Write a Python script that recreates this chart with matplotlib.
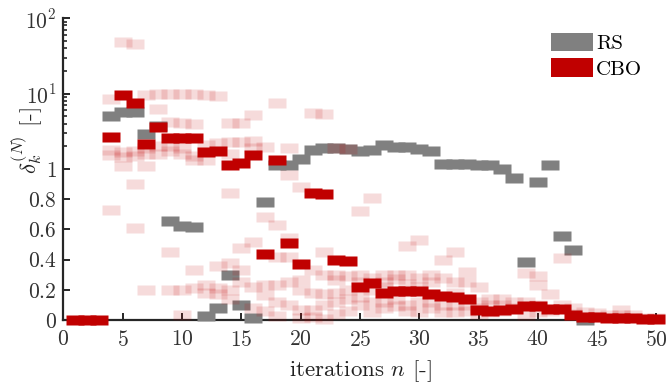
import numpy as np
import matplotlib
matplotlib.use("Agg")
import matplotlib.pyplot as plt
from matplotlib.patches import Patch
from matplotlib.ticker import FixedLocator, FixedFormatter

plt.rcParams['font.family'] = ['cmr10']
plt.rcParams['mathtext.fontset'] = 'cm'
plt.rcParams['axes.unicode_minus'] = False
plt.rcParams['axes.formatter.use_mathtext'] = True

# bold CBO series, iterations 1..50
iterations = np.arange(1, 51)
cbo = [0, 0, 0, 2.65, 9.5, 7.5, 2.16, 3.6, 2.6, 2.57,
       2.55, 1.67, 1.73, 1.14, 1.19, 1.52, 0.44, 1.33, 0.51, 0.373,
       0.843, 0.834, 0.40, 0.39, 0.217, 0.245, 0.179, 0.19, 0.195, 0.195,
       0.17, 0.16, 0.152, 0.139, 0.065, 0.06, 0.068, 0.07, 0.094, 0.094,
       0.073, 0.075, 0.036, 0.02, 0.018, 0.015, 0.012, 0.01, 0.008, 0.005]

# RS series, iterations 4..44
rs_iter = np.arange(4, 45)
rs = [5.07, 5.7, 5.7, 2.93, 3.75, 0.656, 0.62, 0.615, 0.028, 0.08,
      0.296, 0.097, 0.013, 0.78, 1.13, 1.13, 1.38, 1.8, 1.93, 1.92,
      1.86, 1.76, 1.78, 2.06, 1.95, 1.95, 1.86, 1.76, 1.16, 1.16,
      1.16, 1.14, 1.12, 1.0, 0.94, 0.384, 0.916, 1.12, 0.554, 0.466,
      0.0]

# faint CBO runs, values per iteration 1..50
cbo_runs = [
    [], [], [],
    [8.6, 1.8, 1.55, 0.73],
    [48, 1.7, 1.45, 1.1],
    [45, 1.75, 1.5, 0.9, 0.61],
    [9.6, 1.9, 1.6, 1.1, 0.2],
    [9.9, 6.2, 2.0, 1.6],
    [10, 4.15, 2.0, 1.75, 0.45, 0.2],
    [10, 4.1, 1.9, 1.6, 0.2, 0.03],
    [10, 4.0, 1.5, 1.3, 0.33, 0.21],
    [9.6, 2.1, 1.3, 0.23, 0.18],
    [9.3, 2.2, 0.36, 0.21, 0.17],
    [4.1, 2.26, 1.6, 0.84, 0.38, 0.2, 0.14],
    [4.1, 2.3, 0.475, 0.33, 0.25],
    [5.2, 2.35, 1.9, 0.52, 0.22, 0.08],
    [1.98, 0.68, 0.23, 0.165, 0.06],
    [7.5, 0.63, 0.42, 0.23, 0.12, 0.027],
    [1.9, 0.96, 0.54, 0.42, 0.25, 0.1],
    [0.88, 0.265, 0.2, 0.066, 0.01],
    [5.5, 0.33, 0.18, 0.066, 0.02],
    [5.3, 0.45, 0.3, 0.172, 0.1, 0.007],
    [1.9, 0.3, 0.265, 0.18, 0.12, 0.04],
    [1.85, 0.29, 0.2, 0.14, 0.06],
    [0.72, 0.3, 0.25, 0.15, 0.1],
    [0.81, 0.28, 0.2, 0.12, 0.05],
    [0.3, 0.25, 0.22, 0.12, 0.08],
    [0.3, 0.27, 0.14, 0.09],
    [0.49, 0.3, 0.24, 0.1, 0.06],
    [0.53, 0.28, 0.22, 0.12, 0.05],
    [0.3, 0.25, 0.12, 0.08],
    [0.4, 0.28, 0.1, 0.05],
    [0.45, 0.25, 0.18, 0.1, 0.05],
    [0.32, 0.25, 0.1, 0.06],
    [0.22, 0.12, 0.08, 0.04],
    [0.14, 0.1, 0.05],
    [0.14, 0.1, 0.06],
    [0.12, 0.08],
    [0.31, 0.12, 0.03],
    [0.29, 0.23, 0.1, 0.05],
    [0.17, 0.06],
    [0.41, 0.1],
    [0.08, 0.04],
    [0.05, 0.02],
    [0.046, 0.02],
    [0.03],
    [0.066, 0.03],
    [0.03],
    [0.015],
    [0.01],
]

ytick_vals = [0, 0.2, 0.4, 0.6, 0.8, 1, 10, 100]
ytick_labels = ['$0$', '$0.2$', '$0.4$', '$0.6$', '$0.8$', '$1$', '$10^1$', '$10^2$']
yminor_vals = [2, 3, 4, 5, 6, 7, 8, 9, 20, 30, 40, 50, 60, 70, 80, 90]
xtick_vals = [0, 5, 10, 15, 20, 25, 30, 35, 40, 45, 50]

RED = '#c00000'
GRAY = '#808080'
AXC = '#262626'


# linear on [0, 1], log above (half a unit per decade)
def fwd(v):
    v = np.asarray(v, dtype=float)
    return np.where(v <= 1, v, 1 + 0.5 * np.log10(np.maximum(v, 1)))


def inv(t):
    t = np.asarray(t, dtype=float)
    return np.where(t <= 1, t, 10 ** (2 * (np.minimum(t, 5) - 1)))


rect = [(-1, -0.55), (1, -0.55), (1, 0.55), (-1, 0.55), (-1, -0.55)]
msize = 12.3

fig = plt.figure(figsize=(6.66, 3.84), dpi=100)
ax = fig.add_axes([0.0953, 0.1667, 0.8904, 0.786])
ax.set_yscale('function', functions=(fwd, inv))

ax.plot(rs_iter, rs, ls='none', marker=rect, ms=msize, mfc=GRAY, mec='none',
        zorder=3, clip_on=False)

fn = [n for n, vals in zip(iterations, cbo_runs) for v in vals]
fv = [v for vals in cbo_runs for v in vals]
ax.plot(fn, fv, ls='none', marker=rect, ms=msize, mfc=RED, mec='none',
        alpha=0.14, zorder=3.1, clip_on=False)

ax.plot(iterations, cbo, ls='none', marker=rect, ms=msize, mfc=RED, mec='none',
        zorder=3.2, clip_on=False)

ax.set_xlim(0, 50)
ax.set_ylim(0, 100)
ax.yaxis.set_major_locator(FixedLocator(ytick_vals))
ax.yaxis.set_major_formatter(FixedFormatter(ytick_labels))
ax.yaxis.set_minor_locator(FixedLocator(yminor_vals))
ax.set_xticks(xtick_vals)
ax.set_xticklabels(['$%d$' % v for v in xtick_vals])

for s in ['top', 'right']:
    ax.spines[s].set_visible(False)
for s in ['left', 'bottom']:
    ax.spines[s].set_color(AXC)
    ax.spines[s].set_linewidth(1.6)
ax.tick_params(which='major', direction='in', length=5, width=1.4, color=AXC,
               labelsize=15.5, labelcolor='#333333', pad=5)
ax.tick_params(axis='x', which='major', pad=7)
ax.tick_params(which='minor', direction='in', length=3, width=1.2, color=AXC)
ax.tick_params(axis='x', which='minor', bottom=False)

ax.set_xlabel('iterations $n$ [-]', fontsize=16.5, color='#222222', labelpad=6)
ax.set_ylabel(r'$\delta_k^{(N)}$ [-]', fontsize=16.5, color='#222222')
ax.yaxis.set_label_coords(-0.032, 0.596)

handles = [Patch(facecolor=GRAY, edgecolor='none', label='RS'),
           Patch(facecolor=RED, edgecolor='none', label='CBO')]
ax.legend(handles=handles, loc='upper right', bbox_to_anchor=(0.99, 0.98),
          frameon=False, fontsize=15, handlelength=2.0, handleheight=1.0,
          labelspacing=0.25, handletextpad=0.15, borderaxespad=0)

fig.savefig('out.png', dpi=100)
